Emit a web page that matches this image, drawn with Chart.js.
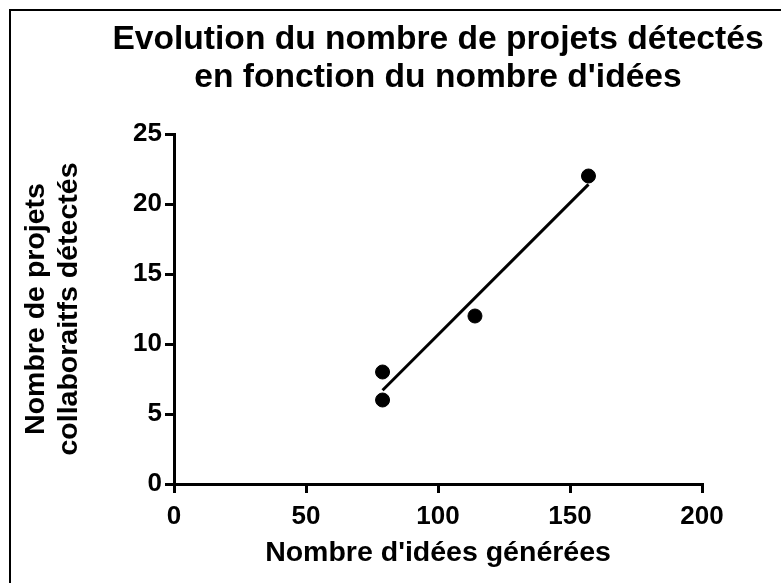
<!DOCTYPE html>
<html lang="fr">
<head>
<meta charset="utf-8">
<title>Projets détectés vs idées</title>
<script src="https://cdn.jsdelivr.net/npm/chart.js@4.4.1/dist/chart.umd.min.js"></script>
<style>
    html, body { margin: 0; padding: 0; background: #fff; }
    #wrap { position: relative; width: 781px; height: 583px; overflow: hidden; }
    #cadre {
        position: absolute; left: 9px; top: 9px; width: 800px; height: 600px;
        border-left: 2px solid #000; border-top: 2px solid #000;
        pointer-events: none;
    }
</style>
</head>
<body>
<div id="wrap">
    <canvas id="idees-chart"></canvas>
    <div id="cadre"></div>
</div>
<script>
// donnees : nombre d'idees generees / projets collaboratifs detectes
const nbIdees = [79, 79, 114, 157];
const nbProjets = [8, 6, 12, 22];

// droite de regression (extremites)
const droiteX = [79, 157];
const droiteY = [6.7, 21.4];

const xTicks = [0, 50, 100, 150, 200];
const yTicks = [0, 5, 10, 15, 20, 25];

const titre = ["Evolution du nombre de projets détectés", "en fonction du nombre d'idées"];
const titreX = "Nombre d'idées générées";
const titreY = ["Nombre de projets", "collaboraitfs détectés"];

const police = "'Liberation Sans', Arial, sans-serif";
Chart.defaults.color = "#000";
Chart.defaults.font.family = police;

function toPoints(xs, ys) {
    return xs.map((x, i) => ({ x: x, y: ys[i] }));
}

// titre centre sur la zone du graphe (le plugin title le centre sur tout le canvas)
const titreCentre = {
    id: "titreCentre",
    afterDraw(chart) {
        const c = chart.ctx;
        const area = chart.chartArea;
        const cx = (area.left + area.right) / 2;
        c.save();
        c.fillStyle = "#000";
        c.font = "bold 33.6px " + police;
        c.textAlign = "center";
        c.textBaseline = "alphabetic";
        titre.forEach((ligne, i) => c.fillText(ligne, cx, 49 + i * 38));
        c.restore();
    }
};

// options communes des axes (traits noirs epais, pas de grille)
function axe(min, max, step, ticks) {
    return {
        type: "linear",
        min: min,
        max: max,
        afterBuildTicks: scale => { scale.ticks = ticks.map(v => ({ value: v })); },
        ticks: { stepSize: step, font: { size: 26, weight: "bold" }, color: "#000" },
        grid: {
            display: true,
            drawOnChartArea: false,
            drawTicks: true,
            tickLength: 9,
            lineWidth: 3,
            color: "#000"
        },
        border: { display: true, width: 3, color: "#000" }
    };
}

const scaleX = axe(0, 200, 50, xTicks);
scaleX.ticks.padding = 8;
scaleX.title = {
    display: true,
    text: titreX,
    font: { size: 28.5, weight: "bold", lineHeight: 1.16 },
    color: "#000",
    padding: { top: 0, bottom: 13.4 }
};
scaleX.afterFit = scale => { scale.height = 99; };

const scaleY = axe(0, 25, 5, yTicks);
scaleY.ticks.padding = 3;
scaleY.title = {
    display: true,
    text: titreY,
    font: { size: 28.5, weight: "bold", lineHeight: 1.16 },
    color: "#000",
    padding: { top: 6, bottom: 0 }
};
scaleY.afterFit = scale => { scale.width = 160; };

const ctx = document.getElementById("idees-chart").getContext("2d");

new Chart(ctx, {
    type: "scatter",
    data: {
        datasets: [
            {
                label: "Projets",
                data: toPoints(nbIdees, nbProjets),
                backgroundColor: "#000",
                borderColor: "#000",
                pointRadius: 7,
                pointHoverRadius: 7
            },
            {
                type: "line",
                label: "Regression",
                data: toPoints(droiteX, droiteY),
                borderColor: "#000",
                borderWidth: 3,
                pointRadius: 0,
                fill: false,
                tension: 0
            }
        ]
    },
    options: {
        responsive: true,
        maintainAspectRatio: false,
        animation: false,
        layout: { padding: { left: 14, right: 79, top: 134, bottom: 0 } },
        scales: { x: scaleX, y: scaleY },
        plugins: {
            legend: { display: false },
            tooltip: { enabled: false },
            title: { display: false }
        }
    },
    plugins: [titreCentre]
});
</script>
</body>
</html>
